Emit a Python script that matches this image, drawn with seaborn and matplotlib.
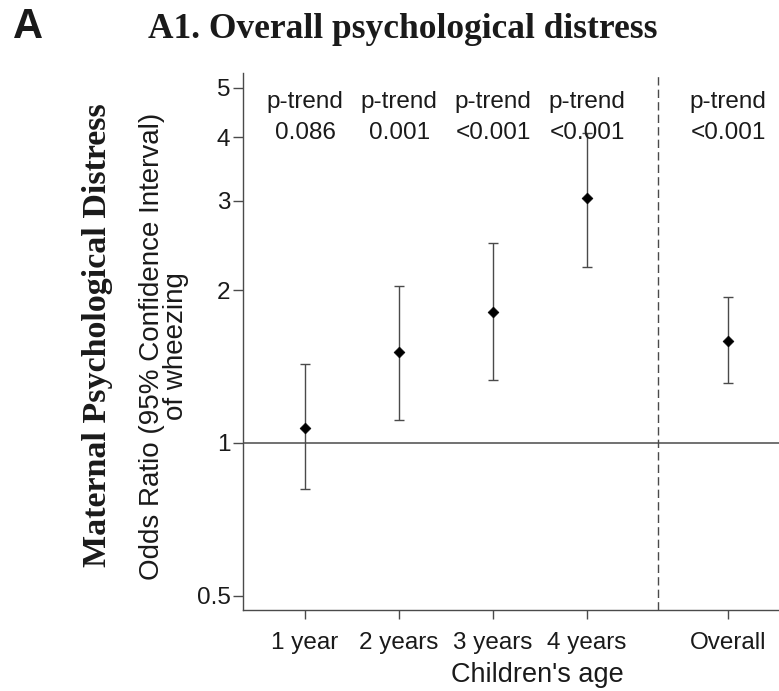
import matplotlib
matplotlib.use("Agg")
import matplotlib.pyplot as plt
import seaborn as sns
import pandas as pd
from matplotlib.ticker import FixedLocator, FixedFormatter, NullLocator

# ---- data ----
categories = ["1 year", "2 years", "3 years", "4 years", "Overall"]
odds_ratio = [1.07, 1.51, 1.81, 3.04, 1.59]
ci_low = [0.81, 1.11, 1.33, 2.22, 1.31]
ci_high = [1.43, 2.04, 2.47, 4.07, 1.94]
p_trend = ["0.086", "0.001", "<0.001", "<0.001", "<0.001"]
y_ticks = [0.5, 1, 2, 3, 4, 5]
y_tick_labels = ["0.5", "1", "2", "3", "4", "5"]

sns.set_theme(style="white")
plt.rcParams["font.family"] = ["Liberation Sans", "DejaVu Sans"]

# categorical layout: age groups at 1..n, overall set apart after a separator
n_age = len(categories) - 1
positions = [i + 1 for i in range(n_age)] + [n_age + 1.5]
sep = n_age + 0.75

df = pd.DataFrame({"cat": categories, "x": positions, "or": odds_ratio,
                   "lo": ci_low, "hi": ci_high})

fig = plt.figure(figsize=(7.79, 6.91), dpi=100)
ax = fig.add_axes([243 / 779, 81 / 691, 536 / 779, 537 / 691])
ax.set_yscale("log")

line_col = "#4a4a4a"
txt_col = "#1a1a1a"

# reference line and separator
ax.axhline(1, color=line_col, lw=1.1, zorder=1)
ax.axvline(sep, color=line_col, lw=1.0, ls=(0, (6, 3)), zorder=1)

# CIs
ax.errorbar(df["x"], df["or"],
            yerr=[df["or"] - df["lo"], df["hi"] - df["or"]],
            fmt="none", ecolor=line_col, elinewidth=1.0, capsize=3.3,
            capthick=1.0, zorder=2)
sns.scatterplot(data=df, x="x", y="or", marker="D", s=30, color="black",
                edgecolor="black", linewidth=0.5, zorder=3, ax=ax, legend=False)

# p-trend annotations
for x, p in zip(positions, p_trend):
    ax.text(x, 4.70, "p-trend", ha="center", va="center", fontsize=17.5,
            color=txt_col, zorder=4)
    ax.text(x, 4.08, p, ha="center", va="center", fontsize=17.5,
            color=txt_col, zorder=4)

ax.set_xlim(0.34, 6.04)
ax.set_ylim(0.469, 5.35)
ax.yaxis.set_major_locator(FixedLocator(y_ticks))
ax.yaxis.set_major_formatter(FixedFormatter(y_tick_labels))
ax.yaxis.set_minor_locator(NullLocator())
ax.set_xticks(positions)
ax.set_xticklabels(categories)

for side in ["top", "right"]:
    ax.spines[side].set_visible(False)
for side in ["left", "bottom"]:
    ax.spines[side].set_color(line_col)
    ax.spines[side].set_linewidth(1.0)

ax.tick_params(axis="y", which="major", left=True, length=7, width=1.0,
               color=line_col, pad=2, labelsize=17.5, labelcolor=txt_col)
ax.tick_params(axis="x", which="major", bottom=True, length=6.5, width=1.0,
               color=line_col, pad=9, labelsize=17.5, labelcolor=txt_col)

ax.set_xlabel("Children's age", fontsize=19.5, color=txt_col)
ax.xaxis.label.set_verticalalignment("center")
ax.xaxis.set_label_coords(0.549, -(675 - 610) / 537)
ax.set_ylabel("")

fig.text(164 / 779, 1 - 346 / 691,
         "Odds Ratio (95% Confidence Interval)\nof wheezing",
         rotation=90, ha="center", va="center", fontsize=20,
         color=txt_col, linespacing=0.9)

fig.text(98 / 779, 1 - 335 / 691, "Maternal Psychological Distress",
         rotation=90, ha="center", va="center", fontsize=24.5,
         family=["Liberation Serif", "DejaVu Serif"], weight="bold",
         color=txt_col)

fig.text(148 / 779, 1 - 38 / 691, "A1. Overall psychological distress",
         ha="left", va="baseline", fontsize=25.5,
         family=["Liberation Serif", "DejaVu Serif"], weight="bold",
         color=txt_col)
fig.text(13 / 779, 1 - 38 / 691, "A", ha="left", va="baseline",
         fontsize=30, weight="bold", color=txt_col)

fig.savefig("out.png", dpi=100)
